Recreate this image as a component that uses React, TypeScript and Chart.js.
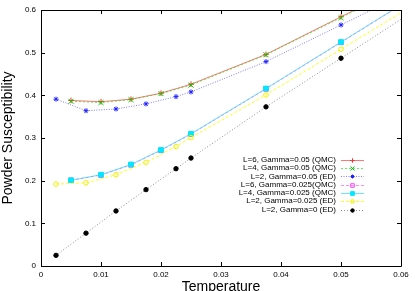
import React, { useEffect, useRef } from "react";
import { Chart, registerables } from "chart.js";
import { drawPoint } from "chart.js/helpers";

Chart.register(...registerables);

// ---- data ----
const xTicks = [0, 0.01, 0.02, 0.03, 0.04, 0.05, 0.06];
const yTicks = [0, 0.1, 0.2, 0.3, 0.4, 0.5, 0.6];

const qmcT = [0.005, 0.01, 0.015, 0.02, 0.025, 0.0375, 0.05, 0.0625];
const edT = [0.0025, 0.0075, 0.0125, 0.0175, 0.0225, 0.025, 0.0375, 0.05, 0.0625];

const l6g05 = [0.388, 0.385, 0.391, 0.405, 0.426, 0.496, 0.584, 0.672];
const l4g05 = [0.386, 0.383, 0.390, 0.404, 0.424, 0.495, 0.582, 0.670];
const l2g05 = [0.391, 0.364, 0.368, 0.380, 0.397, 0.408, 0.479, 0.565, 0.651];
const l6g025 = [0.201, 0.213, 0.237, 0.271, 0.309, 0.415, 0.524, 0.633];
const l4g025 = [0.201, 0.214, 0.238, 0.272, 0.310, 0.416, 0.525, 0.634];
const l2g025 = [0.192, 0.195, 0.214, 0.243, 0.280, 0.301, 0.401, 0.508, 0.615];
const l2g0 = [0.025, 0.077, 0.129, 0.179, 0.228, 0.253, 0.373, 0.487, 0.601];

const labels = [
  "L=6, Gamma=0.05 (QMC)",
  "L=4, Gamma=0.05 (QMC)",
  "L=2, Gamma=0.05 (ED)",
  "L=6, Gamma=0.025(QMC)",
  "L=4, Gamma=0.025 (QMC)",
  "L=2, Gamma=0.025 (ED)",
  "L=2, Gamma=0 (ED)",
];

const FONT = "'Liberation Sans', Arial, sans-serif";

function pts(xs: number[], ys: number[]) {
  return xs.map((x, i) => ({ x, y: ys[i] }));
}

const styles = [
  { line: "rgba(255,60,60,0.7)", mark: "#ff3030", fill: "#ff3030", ps: "cross", r: 2.8, dash: [] as number[] },
  { line: "rgba(0,220,0,0.6)", mark: "#00cc00", fill: "#00cc00", ps: "crossRot", r: 3.5, dash: [2, 2] },
  { line: "rgba(40,40,255,0.6)", mark: "#2020ff", fill: "#2020ff", ps: "star", r: 2.5, dash: [1, 1.5] },
  { line: "rgba(255,0,255,0.45)", mark: "#ff40ff", fill: "rgba(0,0,0,0)", ps: "rect", r: 3.2, dash: [3, 2] },
  { line: "rgba(0,220,255,0.6)", mark: "#00e8ff", fill: "#00e8ff", ps: "rect", r: 3.3, dash: [] },
  { line: "rgba(255,255,0,0.9)", mark: "#f0f000", fill: "rgba(0,0,0,0)", ps: "circle", r: 2.3, dash: [3, 2] },
  { line: "rgba(0,0,0,0.45)", mark: "#000000", fill: "#000000", ps: "circle", r: 2.2, dash: [1, 2] },
];

const seriesData = [
  pts(qmcT, l6g05),
  pts(qmcT, l4g05),
  pts(edT, l2g05),
  pts(qmcT, l6g025),
  pts(qmcT, l4g025),
  pts(edT, l2g025),
  pts(edT, l2g0),
];

const framePlugin = {
  id: "gnuFrame",
  afterDraw(chart: any) {
    const { ctx, chartArea: a } = chart;
    const xs = chart.scales.x;
    const ys = chart.scales.y;
    ctx.save();
    ctx.strokeStyle = "#000";
    ctx.lineWidth = 1;
    ctx.setLineDash([]);
    ctx.beginPath();
    ctx.rect(a.left + 0.5, a.top + 0.5, a.right - a.left, a.bottom - a.top);
    ctx.stroke();
    const tl = 4;
    ctx.beginPath();
    xTicks.forEach((v) => {
      const px = Math.round(xs.getPixelForValue(v)) + 0.5;
      ctx.moveTo(px, a.bottom);
      ctx.lineTo(px, a.bottom - tl);
      ctx.moveTo(px, a.top);
      ctx.lineTo(px, a.top + tl);
    });
    yTicks.forEach((v) => {
      const py = Math.round(ys.getPixelForValue(v)) + 0.5;
      ctx.moveTo(a.left, py);
      ctx.lineTo(a.left + tl, py);
      ctx.moveTo(a.right, py);
      ctx.lineTo(a.right - tl, py);
    });
    ctx.stroke();

    // legend
    const textRight = 336;
    const x0 = 341;
    const x1 = 364;
    const y0 = 159.7;
    const dy = 8.3;
    ctx.font = "8px " + FONT;
    ctx.textAlign = "right";
    ctx.textBaseline = "middle";
    labels.forEach((lab, i) => {
      const y = y0 + i * dy;
      const s = styles[i];
      ctx.fillStyle = "#000";
      ctx.fillText(lab, textRight, y);
      ctx.save();
      ctx.strokeStyle = s.line;
      ctx.lineWidth = 1;
      ctx.setLineDash(s.dash);
      ctx.beginPath();
      ctx.moveTo(x0, Math.round(y) + 0.5);
      ctx.lineTo(x1, Math.round(y) + 0.5);
      ctx.stroke();
      ctx.restore();
      ctx.save();
      ctx.strokeStyle = s.mark;
      ctx.fillStyle = s.fill;
      ctx.lineWidth = 1;
      ctx.setLineDash([]);
      drawPoint(ctx, { pointStyle: s.ps, radius: s.r * 0.8, rotation: 0, borderWidth: 1 }, (x0 + x1) / 2, Math.round(y) + 0.5);
      ctx.restore();
    });
    ctx.restore();
  },
};

export default function App() {
  const ref = useRef<HTMLCanvasElement | null>(null);
  useEffect(() => {
    document.body.style.margin = "0";
    const canvas = ref.current;
    if (!canvas) return;
    const chart = new Chart(canvas, {
      type: "scatter",
      data: {
        datasets: seriesData.map((d, i) => ({
          label: labels[i],
          data: d,
          order: seriesData.length - 1 - i,
          showLine: true,
          borderColor: styles[i].line,
          borderWidth: 1,
          borderDash: styles[i].dash,
          pointStyle: styles[i].ps as any,
          pointRadius: styles[i].r,
          pointBorderColor: styles[i].mark,
          pointBackgroundColor: styles[i].fill,
          pointBorderWidth: 1,
          pointHoverRadius: styles[i].r,
          tension: 0,
        })),
      },
      options: {
        animation: false,
        responsive: false,
        maintainAspectRatio: false,
        devicePixelRatio: 1,
        layout: { padding: { top: 10, right: 14, left: 0, bottom: 0 } },
        plugins: {
          legend: { display: false },
          tooltip: { enabled: false },
        },
        scales: {
          x: {
            type: "linear",
            min: 0,
            max: 0.06,
            afterBuildTicks: (s: any) => {
              s.ticks = xTicks.map((v) => ({ value: v }));
            },
            afterFit: (s: any) => {
              s.height = 25;
              s.paddingLeft = 0;
              s.paddingRight = 0;
            },
            grid: { display: false, drawTicks: false, tickLength: 0 },
            border: { display: false },
            ticks: {
              padding: 4,
              color: "#000",
              font: { family: FONT, size: 8 },
              callback: (v: any) => String(v),
            },
            title: {
              display: true,
              text: "Temperature",
              color: "#000",
              font: { family: FONT, size: 14, lineHeight: 1 },
              padding: { top: 0, bottom: -2.7 },
            },
          },
          y: {
            type: "linear",
            min: 0,
            max: 0.6,
            afterBuildTicks: (s: any) => {
              s.ticks = yTicks.map((v) => ({ value: v }));
            },
            afterFit: (s: any) => {
              s.width = 41;
              s.paddingTop = 0;
              s.paddingBottom = 0;
            },
            grid: { display: false, drawTicks: false, tickLength: 0 },
            border: { display: false },
            ticks: {
              padding: 5,
              color: "#000",
              font: { family: FONT, size: 8 },
              callback: (v: any) => String(v),
            },
            title: {
              display: true,
              text: "Powder Susceptibility",
              color: "#000",
              font: { family: FONT, size: 14, lineHeight: 1 },
              padding: { top: 1, bottom: 0 },
            },
          },
        },
      },
      plugins: [framePlugin],
    });
    return () => chart.destroy();
  }, []);
  return (
    <div style={{ position: "absolute", left: 0, top: 0, width: 415, height: 291, background: "#fff" }}>
      <canvas ref={ref} width={415} height={291} style={{ display: "block", width: 415, height: 291 }} />
    </div>
  );
}
